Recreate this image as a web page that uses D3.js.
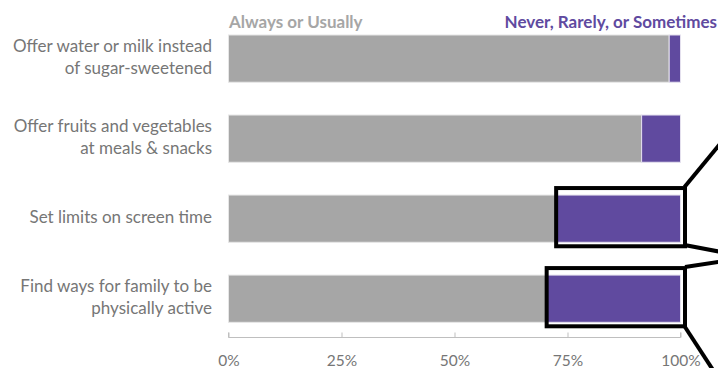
<!DOCTYPE html>
<html><head><meta charset="utf-8">
<script src="https://cdn.jsdelivr.net/npm/d3@7"></script>
<style>
html,body{margin:0;padding:0;background:#fff;}
svg{display:block;}
text{font-family:Lato,"Open Sans",sans-serif;}
</style></head>
<body>
<svg id="chart" width="718" height="368"></svg>
<script>
const categories = [
  ["Offer water or milk instead", "of sugar-sweetened"],
  ["Offer fruits and vegetables", "at meals & snacks"],
  ["Set limits on screen time"],
  ["Find ways for family to be", "physically active"]
];
const alwaysUsually = [0.975, 0.914, 0.726, 0.705];
const neverRarelySometimes = alwaysUsually.map(v => 1 - v);
const tickValues = [0, 0.25, 0.5, 0.75, 1];
const tickLabels = ["0%", "25%", "50%", "75%", "100%"];
const seriesNames = ["Always or Usually", "Never, Rarely, or Sometimes"];
const highlighted = [2, 3];

const GRAY = "#a6a6a6", PURPLE = "#604a9f", TEXT = "#767676";
const svg = d3.select("#chart");
const x = d3.scaleLinear().domain([0, 1]).range([228.5, 680.5]);
const y = d3.scaleBand().domain(d3.range(categories.length)).range([35, 322.3]).paddingInner(0.41).paddingOuter(0);

// bars
const g = svg.append("g");
g.selectAll("rect.a").data(alwaysUsually).join("rect")
  .attr("x", x(0)).attr("y", (d,i) => y(i))
  .attr("width", d => x(d) - x(0)).attr("height", y.bandwidth())
  .attr("fill", GRAY).attr("stroke", "#e6e6e6").attr("stroke-width", 1);
g.selectAll("rect.n").data(neverRarelySometimes).join("rect")
  .attr("x", (d,i) => x(alwaysUsually[i])).attr("y", (d,i) => y(i))
  .attr("width", d => x(d) - x(0)).attr("height", y.bandwidth())
  .attr("fill", PURPLE).attr("stroke", "#e4e0ee").attr("stroke-width", 1);

// category labels
categories.forEach((lines, i) => {
  const cy = y(i) + y.bandwidth() / 2;
  const lh = 21.7;
  const t = svg.append("text").attr("text-anchor", "end").attr("fill", TEXT)
    .attr("font-size", 17);
  lines.forEach((ln, j) => {
    t.append("tspan").attr("x", 212)
      .attr("y", cy + 4.5 + (j - (lines.length - 1) / 2) * lh).text(ln);
  });
});

// legend labels
svg.append("text").attr("x", 229).attr("y", 28).attr("fill", GRAY)
  .attr("font-size", 17).attr("font-weight", "bold").text(seriesNames[0]);
svg.append("text").attr("x", 717).attr("y", 28).attr("text-anchor", "end").attr("fill", PURPLE)
  .attr("font-size", 17).attr("font-weight", "bold").text(seriesNames[1]);

// axis
const axis = d3.axisBottom(x).tickValues(tickValues).tickSize(-5)
  .tickFormat((d,i) => tickLabels[i]);
const ag = svg.append("g").attr("transform", "translate(0,337.5)").call(axis);
ag.select(".domain").attr("stroke", "#bfbfbf").attr("d", `M${x(0)},-5V0H${x(1)}V-5`);
ag.selectAll(".tick line").attr("stroke", "#bfbfbf");
ag.selectAll(".tick text").attr("fill", TEXT).attr("font-size", 15.5)
  .attr("font-family", "Lato, sans-serif").attr("y", 0).attr("dy", 28);

// highlight boxes and callout lines
highlighted.forEach(i => {
  const x0 = x(alwaysUsually[i]) - 0.5, x1 = x(1) + 4.5;
  const y0 = y(i) - 7, y1 = y(i) + y.bandwidth() + 4;
  svg.append("rect").attr("x", x0).attr("y", y0).attr("width", x1 - x0).attr("height", y1 - y0)
    .attr("fill", "none").attr("stroke", "#000").attr("stroke-width", 4);
});
const callouts = [
  [[684.5, 187], [724, 139]],
  [[684.5, 245], [724, 252.5]],
  [[685, 267], [724, 261]],
  [[685, 327], [713, 370]]
];
callouts.forEach(p => {
  svg.append("line").attr("x1", p[0][0]).attr("y1", p[0][1]).attr("x2", p[1][0]).attr("y2", p[1][1])
    .attr("stroke", "#000").attr("stroke-width", 4);
});
</script>
</body></html>
